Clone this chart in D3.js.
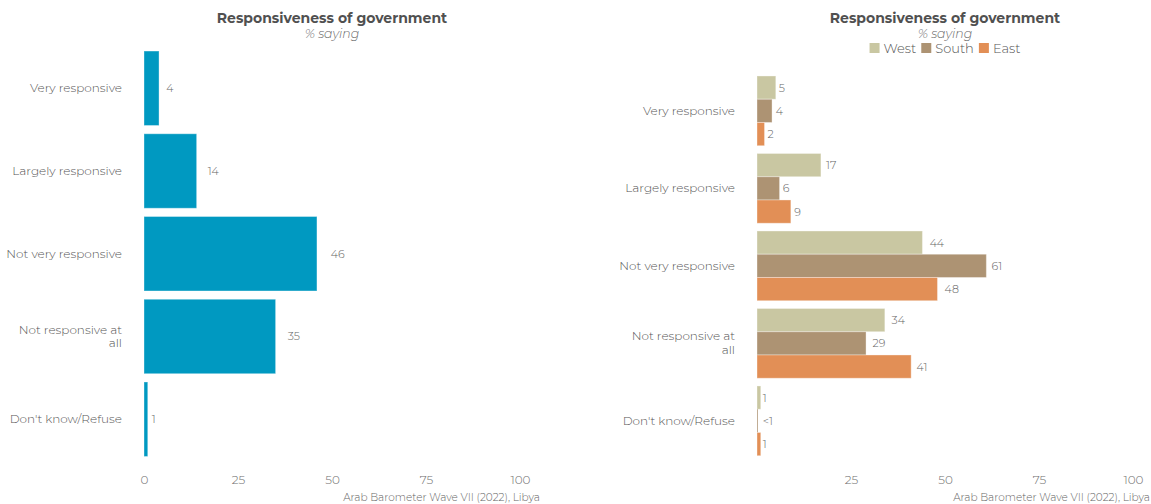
<!DOCTYPE html>
<html>
<head>
<meta charset="utf-8">
<script src="https://cdn.jsdelivr.net/npm/d3@7"></script>
<style>
  html, body { margin: 0; padding: 0; background: #fff; }
  svg text { font-family: "Montserrat", "Noto Sans", "Open Sans", sans-serif; }
</style>
</head>
<body>
<svg id="chart" width="1151" height="504"></svg>
<script>
// ---- data ----
const categories = ["Very responsive", "Largely responsive", "Not very responsive", "Not responsive at all", "Don't know/Refuse"];
const overallValues = [4, 14, 46, 35, 1];
const regions = ["West", "South", "East"];
const westValues = [5, 17, 44, 34, 1];
const southValues = [4, 6, 61, 29, 0.2];
const eastValues = [2, 9, 48, 41, 1];
const regionColors = ["#C9C7A2", "#AD9373", "#E28F56"];
const overallColor = "#0099C1";
const xTicksLeft = [0, 25, 50, 75, 100];
const xTicksRight = [25, 50, 75, 100];
const titleText = "Responsiveness of government";
const subtitleText = "% saying";
const captionText = "Arab Barometer Wave VII (2022), Libya";

const svg = d3.select("#chart");
const fmt = v => v < 1 ? "<1" : String(Math.round(v));

// wrap by character count (like str_wrap)
function wrapLabel(sel, maxChars) {
  sel.each(function() {
    const t = d3.select(this);
    const words = t.text().split(/\s+/);
    const x = t.attr("x");
    t.text(null);
    const lines = [];
    let line = "";
    words.forEach(w => {
      const cand = line ? line + " " + w : w;
      if (cand.length > maxChars && line) { lines.push(line); line = w; }
      else line = cand;
    });
    lines.push(line);
    const lh = 13.8;
    const y0 = -(lines.length - 1) * lh / 2;
    lines.forEach((l, i) => {
      t.append("tspan").attr("x", x).attr("dy", i === 0 ? (y0 + 4) : lh).text(l);
    });
  });
}

function drawAxis(g, x, ticks, y) {
  g.append("g")
    .attr("transform", `translate(0,${y})`)
    .call(d3.axisBottom(x).tickValues(ticks).tickSize(0).tickPadding(0))
    .call(a => a.select(".domain").remove())
    .selectAll("text")
    .attr("dy", "0")
    .attr("fill", "#6e6e6e")
    .style("font-size", "12px")
    .style("font-weight", "300");
}

// ---- left panel ----
{
  const x = d3.scaleLinear().domain([0, 100]).range([144, 520]);
  const y = d3.scaleBand().domain(categories).range([46.9, 460.6]).paddingInner(0.1).paddingOuter(0.05);
  const g = svg.append("g");

  g.append("text").attr("x", 332).attr("y", 23).attr("text-anchor", "middle")
    .attr("fill", "#505050").style("font-size", "14px").style("font-weight", "700").text(titleText);
  g.append("text").attr("x", 332).attr("y", 37.5).attr("text-anchor", "middle")
    .attr("fill", "#6a6a6a").style("font-size", "12.5px").style("font-style", "italic").style("font-weight", "300").text(subtitleText);

  g.selectAll("rect.bar").data(categories).join("rect")
    .attr("class", "bar")
    .attr("x", x(0))
    .attr("y", d => y(d))
    .attr("width", (d, i) => x(overallValues[i]) - x(0))
    .attr("height", y.bandwidth())
    .attr("fill", overallColor)
    .attr("stroke", "#ffffff").attr("stroke-opacity", 0.35).attr("stroke-width", 1);

  g.selectAll("text.val").data(categories).join("text")
    .attr("class", "val")
    .attr("y", d => y(d) + y.bandwidth() / 2 + 4)
    .attr("fill", "#666").style("font-size", "11px").style("font-weight", "300")
    .text((d, i) => fmt(overallValues[i]))
    .attr("x", function(d, i) { return x(overallValues[i]) + this.getComputedTextLength(); });

  g.selectAll("text.cat").data(categories).join("text")
    .attr("class", "cat")
    .attr("x", 122)
    .attr("y", d => y(d) + y.bandwidth() / 2)
    .attr("text-anchor", "end")
    .attr("fill", "#555").style("font-size", "12px").style("font-weight", "300")
    .text(d => d)
    .call(wrapLabel, 20);

  drawAxis(g, x, xTicksLeft, 484);

  g.append("text").attr("x", 540).attr("y", 501).attr("text-anchor", "end")
    .attr("fill", "#666").style("font-size", "10.5px").style("font-weight", "300").text(captionText);
}

// ---- right panel ----
{
  const x = d3.scaleLinear().domain([0, 100]).range([757, 1133]);
  const y = d3.scaleBand().domain(categories).range([72.1, 459.6]).paddingInner(0.1).paddingOuter(0.05);
  const yi = d3.scaleBand().domain(regions).range([0, y.bandwidth()]);
  const series = [westValues, southValues, eastValues];
  const g = svg.append("g");

  g.append("text").attr("x", 945).attr("y", 23).attr("text-anchor", "middle")
    .attr("fill", "#505050").style("font-size", "14px").style("font-weight", "700").text(titleText);
  g.append("text").attr("x", 945).attr("y", 37.5).attr("text-anchor", "middle")
    .attr("fill", "#6a6a6a").style("font-size", "12.5px").style("font-style", "italic").style("font-weight", "300").text(subtitleText);

  // legend
  const leg = g.append("g");
  const items = leg.selectAll("g").data(regions).join("g");
  items.append("rect").attr("width", 10).attr("height", 10).attr("y", 43)
    .attr("fill", (d, i) => regionColors[i]);
  items.append("text").attr("x", 14).attr("y", 53)
    .attr("fill", "#555").style("font-size", "13px").style("font-weight", "300").text(d => d);
  const widths = [];
  items.each(function() { widths.push(this.getBBox().width); });
  const total = d3.sum(widths) + 5 * (regions.length - 1);
  let cx = 945 - total / 2;
  items.attr("transform", (d, i) => {
    const t = `translate(${cx},0)`;
    cx += widths[i] + 5;
    return t;
  });

  const groups = g.selectAll("g.grp").data(categories).join("g")
    .attr("class", "grp")
    .attr("transform", d => `translate(0,${y(d)})`);

  regions.forEach((r, ri) => {
    groups.append("rect")
      .attr("x", x(0))
      .attr("y", yi(r))
      .attr("width", (d, i) => x(series[ri][i]) - x(0))
      .attr("height", yi.bandwidth())
      .attr("fill", regionColors[ri])
      .attr("stroke", (d, i) => series[ri][i] < 0.5 ? "none" : "#ffffff")
      .attr("stroke-opacity", 0.35).attr("stroke-width", 1);
    groups.append("text")
      .attr("y", yi(r) + yi.bandwidth() / 2 + 4)
      .attr("fill", "#666").style("font-size", "11px").style("font-weight", "300")
      .text((d, i) => fmt(series[ri][i]))
      .attr("x", function(d, i) { return x(series[ri][i]) + this.getComputedTextLength() / 2; });
  });

  g.selectAll("text.cat").data(categories).join("text")
    .attr("class", "cat")
    .attr("x", 735)
    .attr("y", d => y(d) + y.bandwidth() / 2)
    .attr("text-anchor", "end")
    .attr("fill", "#555").style("font-size", "12px").style("font-weight", "300")
    .text(d => d)
    .call(wrapLabel, 20);

  drawAxis(g, x, xTicksRight, 484);

  g.append("text").attr("x", 1150).attr("y", 501).attr("text-anchor", "end")
    .attr("fill", "#666").style("font-size", "10.5px").style("font-weight", "300").text(captionText);
}
</script>
</body>
</html>
